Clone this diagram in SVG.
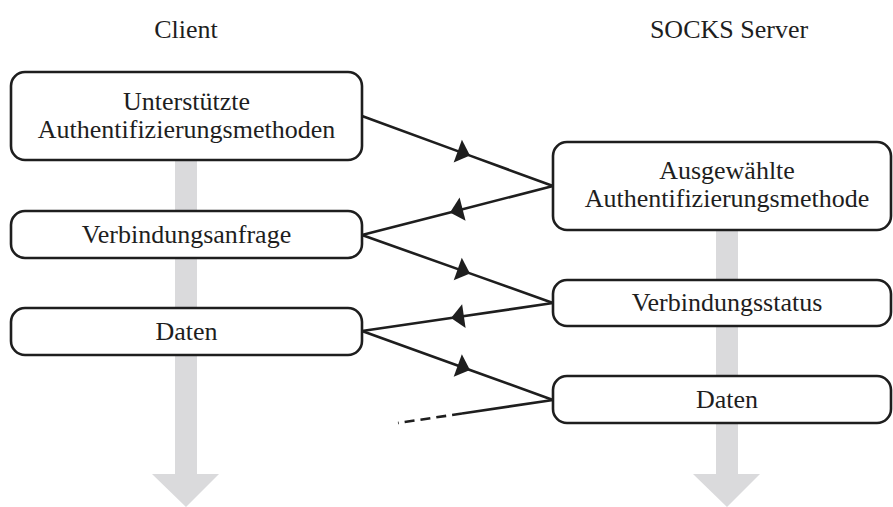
<svg xmlns="http://www.w3.org/2000/svg" width="893" height="507" viewBox="0 0 893 507">
  <style>
    .lbl { font-size: 26px; fill: #1e1e1e; text-anchor: middle; }
    .box { fill: #ffffff; stroke: #1e1e1e; stroke-width: 2.6; }
    .flow { fill: #dadadc; }
    .msg { fill: none; stroke: #1e1e1e; stroke-width: 2.6; marker-mid: url(#tri); }
    .tail { fill: none; stroke: #1e1e1e; stroke-width: 2.6; }
  </style>
  <defs>
    <marker id="tri" viewBox="-14 -13 15 26" refX="0" refY="0" markerWidth="15" markerHeight="26" markerUnits="userSpaceOnUse" orient="auto">
      <path d="M0,0 L-13,-12 L-13,12 Z" fill="#1e1e1e"/>
    </marker>
  </defs>

  <rect width="893" height="507" fill="#ffffff"/>

  <!-- column headings -->
  <text class="lbl" x="186" y="38" font-family="Liberation Serif, serif">Client</text>
  <text class="lbl" x="729" y="38" font-family="Liberation Serif, serif">SOCKS Server</text>

  <!-- time lines -->
  <g id="timeline-client">
    <path class="flow" d="M175,160 H197 V474 H219 L186,507 L152,474 H175 Z"/>
  </g>
  <g id="timeline-server">
    <path class="flow" d="M716,230 H738 V474 H760 L727,507 L693,474 H716 Z"/>
  </g>

  <!-- message exchange -->
  <g id="connectors">
    <path class="msg" d="M362,116 L470,155.6 L553,186"/>
    <path class="msg" d="M553,186 L450,212.4 L362,235"/>
    <path class="msg" d="M362,235 L470,273.4 L553,303"/>
    <path class="msg" d="M553,303 L451,318 L362,331"/>
    <path class="msg" d="M362,331 L470,370 L553,400"/>
    <path class="tail" d="M553,400 L462,413.5"/>
    <path class="tail" d="M462,413.5 L398,423" stroke-dasharray="10 6"/>
  </g>

  <!-- client side -->
  <g id="client-methods">
    <rect class="box" x="11" y="72" width="351" height="88" rx="14"/>
    <text class="lbl" x="186.5" y="110" font-family="Liberation Serif, serif">Unterstützte</text>
    <text class="lbl" x="186.5" y="138" font-family="Liberation Serif, serif">Authentifizierungsmethoden</text>
  </g>
  <g id="client-request">
    <rect class="box" x="11" y="211" width="351" height="47" rx="14"/>
    <text class="lbl" x="186.5" y="243" font-family="Liberation Serif, serif">Verbindungsanfrage</text>
  </g>
  <g id="client-data">
    <rect class="box" x="11" y="308" width="351" height="47" rx="14"/>
    <text class="lbl" x="186.5" y="340" font-family="Liberation Serif, serif">Daten</text>
  </g>

  <!-- server side -->
  <g id="server-method">
    <rect class="box" x="553" y="142" width="338" height="88" rx="14"/>
    <text class="lbl" x="727" y="179" font-family="Liberation Serif, serif">Ausgewählte</text>
    <text class="lbl" x="727" y="207" font-family="Liberation Serif, serif">Authentifizierungsmethode</text>
  </g>
  <g id="server-status">
    <rect class="box" x="553" y="280" width="338" height="46" rx="14"/>
    <text class="lbl" x="727" y="311" font-family="Liberation Serif, serif">Verbindungsstatus</text>
  </g>
  <g id="server-data">
    <rect class="box" x="553" y="376" width="338" height="47" rx="14"/>
    <text class="lbl" x="727" y="408" font-family="Liberation Serif, serif">Daten</text>
  </g>
</svg>
